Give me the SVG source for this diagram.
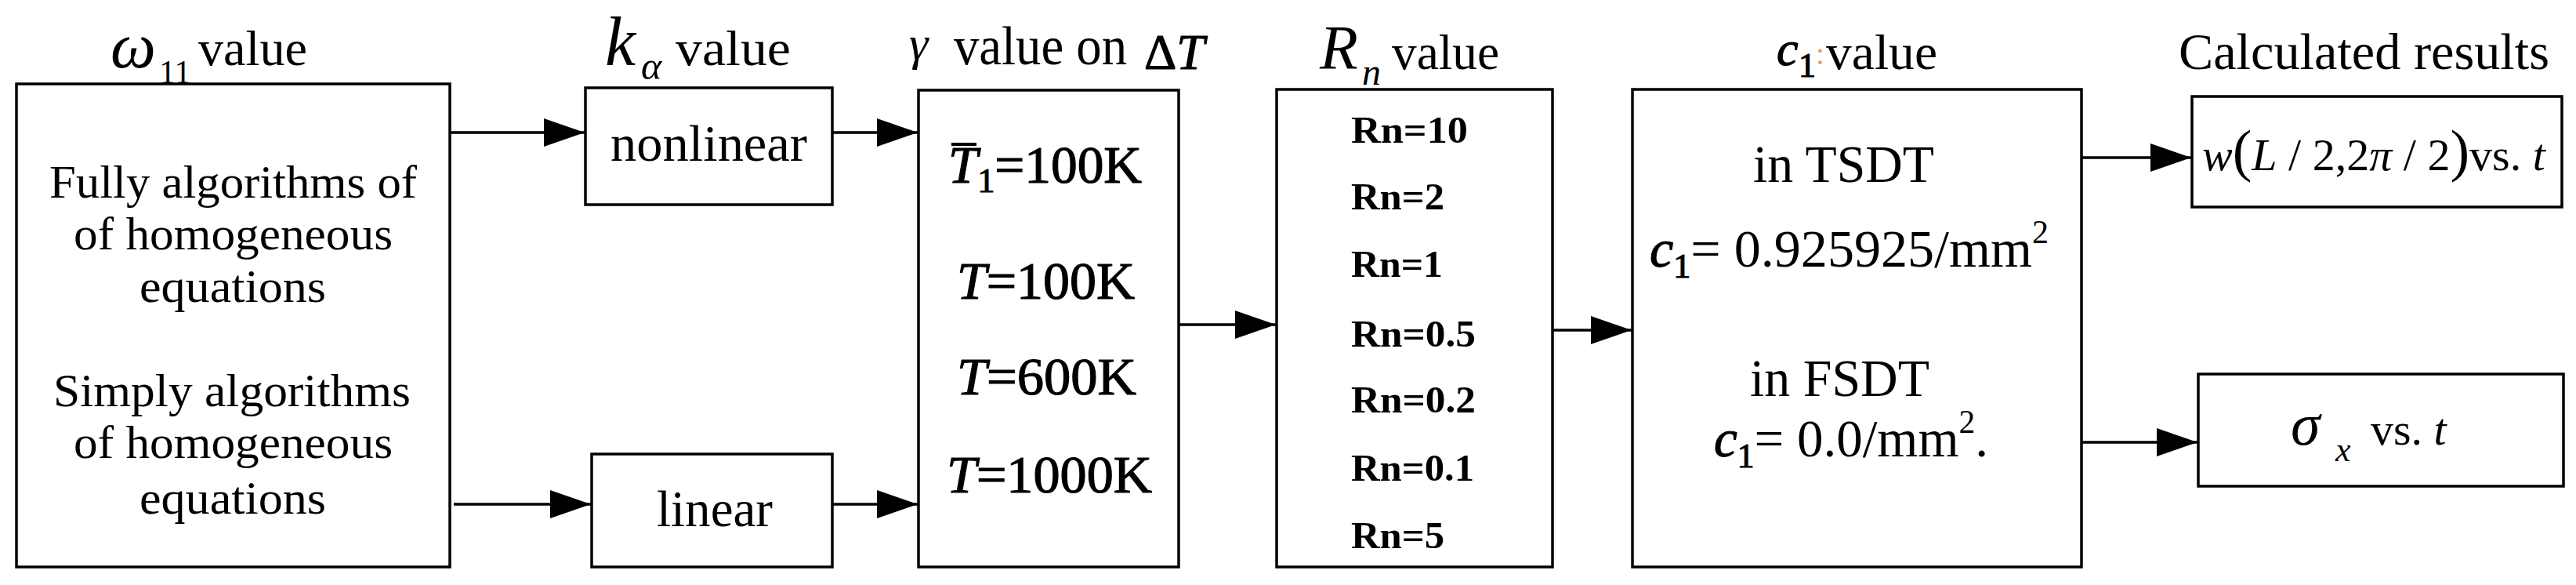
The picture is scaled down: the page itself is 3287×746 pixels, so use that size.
<svg xmlns="http://www.w3.org/2000/svg" width="3287" height="746" viewBox="0 0 3287 746">
<style>
  .box{fill:#fff;stroke:#000;stroke-width:3.5}
  .t{font-family:"Liberation Serif","Times New Roman",serif;fill:#000}
  .it{font-style:italic}
  .lbl{font-size:60px}
  .ttl{font-size:64px}
  .eq{font-size:68px}
  .heavy{stroke:#000;stroke-width:1.2}
  .rn{font-size:48px;font-weight:bold}
  .conn line{stroke:#000;stroke-width:3.5;marker-end:url(#ah)}
</style>
<defs>
  <marker id="ah" markerUnits="userSpaceOnUse" markerWidth="52" markerHeight="36" refX="52" refY="18" orient="auto">
    <path d="M0,0 L52,18 L0,36 z" fill="#000"/>
  </marker>
</defs>
<rect width="3287" height="746" fill="#fff"/>

<!-- titles -->
<g id="titles" class="t">
  <text x="141" y="86" class="it" font-size="82">ω</text>
  <text x="203" y="106" font-size="42">11</text>
  <text x="253" y="83" class="ttl" textLength="139" lengthAdjust="spacingAndGlyphs">value</text>

  <text x="772" y="83" class="it" font-size="88">k</text>
  <text x="818" y="101" class="it" font-size="50">α</text>
  <text x="862" y="83" class="ttl" textLength="147" lengthAdjust="spacingAndGlyphs">value</text>

  <text x="1160" y="76" class="it" font-size="62">γ</text>
  <text x="1217" y="82" font-size="70" textLength="221" lengthAdjust="spacingAndGlyphs">value on</text>
  <text x="1460" y="88" font-size="64" class="heavy" textLength="77" lengthAdjust="spacingAndGlyphs">Δ<tspan class="it">T</tspan></text>

  <text x="1684" y="88" class="it" font-size="80">R</text>
  <text x="1738" y="108" class="it" font-size="48">n</text>
  <text x="1776" y="88" class="ttl" textLength="137" lengthAdjust="spacingAndGlyphs">value</text>

  <text x="2267" y="83" class="it heavy" font-size="62">c</text>
  <text x="2295" y="98" font-size="44" class="heavy">1</text>
  <text x="2317" y="82" font-size="40" fill="#e0a060">:</text>
  <text x="2330" y="88" class="ttl" textLength="142" lengthAdjust="spacingAndGlyphs">value</text>

  <text x="2780" y="88" font-size="66" textLength="473" lengthAdjust="spacingAndGlyphs">Calculated results</text>
</g>

<!-- connectors -->
<g id="connectors" class="conn">
  <line x1="574" y1="169" x2="746" y2="169"/>
  <line x1="579" y1="643" x2="754" y2="643"/>
  <line x1="1062" y1="169" x2="1171" y2="169"/>
  <line x1="1062" y1="643" x2="1171" y2="643"/>
  <line x1="1505" y1="414" x2="1628" y2="414"/>
  <line x1="1981" y1="421" x2="2082" y2="421"/>
  <line x1="2656" y1="201" x2="2796" y2="201"/>
  <line x1="2657" y1="564" x2="2804" y2="564"/>
</g>

<g id="node-omega" class="t">
  <rect class="box" x="21" y="107" width="553" height="616"/>
  <text x="63" y="252" class="lbl" textLength="469" lengthAdjust="spacingAndGlyphs">Fully algorithms of</text>
  <text x="94" y="318" class="lbl" textLength="407" lengthAdjust="spacingAndGlyphs">of homogeneous</text>
  <text x="178" y="385" class="lbl" textLength="238" lengthAdjust="spacingAndGlyphs">equations</text>
  <text x="68" y="518" class="lbl" textLength="456" lengthAdjust="spacingAndGlyphs">Simply algorithms</text>
  <text x="94" y="584" class="lbl" textLength="407" lengthAdjust="spacingAndGlyphs">of homogeneous</text>
  <text x="178" y="655" class="lbl" textLength="238" lengthAdjust="spacingAndGlyphs">equations</text>
</g>

<g id="node-nonlinear" class="t">
  <rect class="box" x="747" y="112" width="315" height="149"/>
  <text x="779" y="205" font-size="66" textLength="251" lengthAdjust="spacingAndGlyphs">nonlinear</text>
</g>

<g id="node-linear" class="t">
  <rect class="box" x="755" y="579" width="307" height="144"/>
  <text x="838" y="671" font-size="66" textLength="148" lengthAdjust="spacingAndGlyphs">linear</text>
</g>

<g id="node-gamma" class="t">
  <rect class="box" x="1172" y="115" width="332" height="608"/>
  <line x1="1214" y1="184" x2="1246" y2="184" stroke="#000" stroke-width="4"/>
  <text x="1210" y="233" class="eq heavy" textLength="247" lengthAdjust="spacingAndGlyphs"><tspan class="it">T</tspan><tspan font-size="44" dy="12">1</tspan><tspan dy="-12">=100K</tspan></text>
  <text x="1221" y="381" class="eq heavy" textLength="227" lengthAdjust="spacingAndGlyphs"><tspan class="it">T</tspan>=100K</text>
  <text x="1221" y="503" class="eq heavy" textLength="229" lengthAdjust="spacingAndGlyphs"><tspan class="it">T</tspan>=600K</text>
  <text x="1208" y="628" class="eq heavy" textLength="262" lengthAdjust="spacingAndGlyphs"><tspan class="it">T</tspan>=1000K</text>
</g>

<g id="node-rn" class="t">
  <rect class="box" x="1629" y="114" width="352" height="609"/>
  <text x="1724" y="182" class="rn" textLength="149" lengthAdjust="spacingAndGlyphs">Rn=10</text>
  <text x="1724" y="267" class="rn" textLength="119" lengthAdjust="spacingAndGlyphs">Rn=2</text>
  <text x="1724" y="353" class="rn" textLength="117" lengthAdjust="spacingAndGlyphs">Rn=1</text>
  <text x="1724" y="442" class="rn" textLength="159" lengthAdjust="spacingAndGlyphs">Rn=0.5</text>
  <text x="1724" y="526" class="rn" textLength="159" lengthAdjust="spacingAndGlyphs">Rn=0.2</text>
  <text x="1724" y="613" class="rn" textLength="157" lengthAdjust="spacingAndGlyphs">Rn=0.1</text>
  <text x="1724" y="699" class="rn" textLength="119" lengthAdjust="spacingAndGlyphs">Rn=5</text>
</g>

<g id="node-c1" class="t">
  <rect class="box" x="2083" y="114" width="573" height="609"/>
  <text x="2237" y="232" class="eq" font-size="66" textLength="231" lengthAdjust="spacingAndGlyphs">in TSDT</text>
  <text x="2105" y="340" class="eq" font-size="70" textLength="509" lengthAdjust="spacingAndGlyphs"><tspan class="it heavy">c</tspan><tspan font-size="44" class="heavy" dy="14">1</tspan><tspan dy="-14">= 0.925925/mm</tspan><tspan font-size="42" dy="-30">2</tspan></text>
  <text x="2233" y="505" class="eq" font-size="66" textLength="229" lengthAdjust="spacingAndGlyphs">in FSDT</text>
  <text x="2187" y="582" class="eq" font-size="70" textLength="350" lengthAdjust="spacingAndGlyphs"><tspan class="it heavy">c</tspan><tspan font-size="44" class="heavy" dy="14">1</tspan><tspan dy="-14">= 0.0/mm</tspan><tspan font-size="42" dy="-30">2</tspan><tspan dy="30">.</tspan></text>
</g>

<g id="node-result-w" class="t">
  <rect class="box" x="2797" y="123" width="472" height="141"/>
  <text x="2810" y="217" font-size="58"><tspan class="it">w</tspan><tspan font-size="74">(</tspan><tspan class="it">L</tspan> / 2,2<tspan class="it">π</tspan> / 2<tspan font-size="74">)</tspan>vs. <tspan class="it">t</tspan></text>
</g>

<g id="node-result-sigma" class="t">
  <rect class="box" x="2805" y="477" width="466" height="143"/>
  <text x="2923" y="567" class="it" font-size="76">σ</text>
  <text x="2980" y="588" class="it" font-size="44">x</text>
  <text x="3025" y="567" font-size="58">vs. <tspan class="it">t</tspan></text>
</g>
</svg>
